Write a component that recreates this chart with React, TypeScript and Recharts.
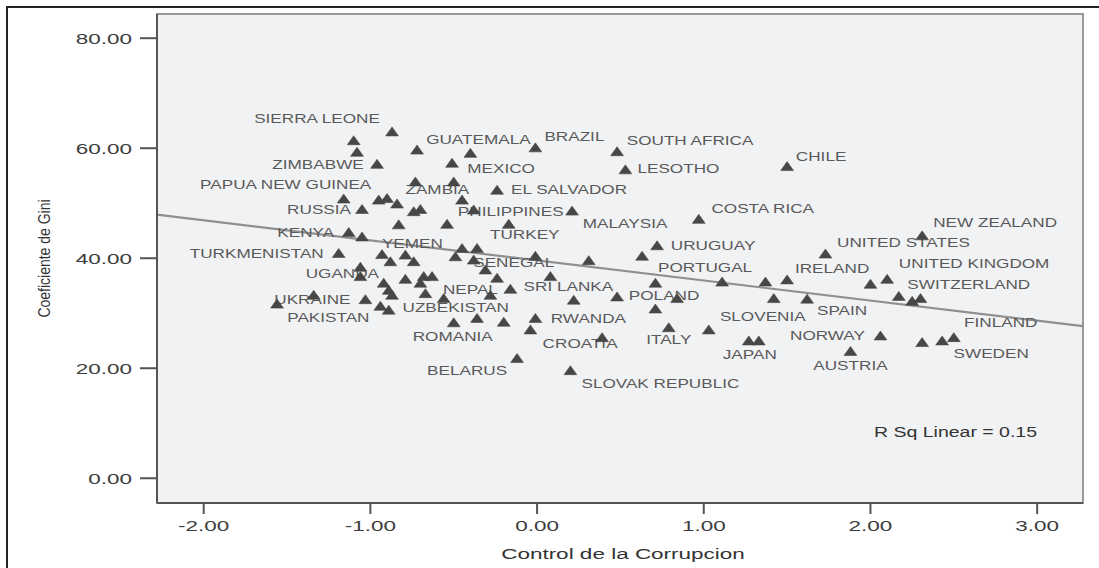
import React from "react";
import {
  ScatterChart,
  Scatter,
  XAxis,
  YAxis,
  ReferenceArea,
  ReferenceLine,
  Customized,
} from "recharts";

// labelled countries: control of corruption (x) vs Gini coefficient (y)
const countryNames = [
  "SIERRA LEONE", "ZIMBABWE", "GUATEMALA", "BRAZIL", "MEXICO",
  "SOUTH AFRICA", "LESOTHO", "CHILE", "ZAMBIA", "EL SALVADOR",
  "PAPUA NEW GUINEA", "RUSSIA", "PHILIPPINES", "MALAYSIA", "TURKEY",
  "COSTA RICA", "KENYA", "TURKMENISTAN", "YEMEN", "URUGUAY",
  "NEW ZEALAND", "UNITED STATES", "SENEGAL", "PORTUGAL", "IRELAND",
  "UNITED KINGDOM", "SWITZERLAND", "UGANDA", "NEPAL", "SRI LANKA",
  "UZBEKISTAN", "UKRAINE", "PAKISTAN", "POLAND", "RWANDA",
  "ROMANIA", "CROATIA", "ITALY", "BELARUS", "SLOVAK REPUBLIC",
  "SLOVENIA", "SPAIN", "FINLAND", "SWEDEN", "NORWAY",
  "JAPAN", "AUSTRIA",
];
const countryControl = [
  -0.87, -0.96, -0.4, -0.01, -0.51,
  0.48, 0.53, 1.5, -0.73, -0.24,
  -1.16, -1.05, -0.38, 0.21, -0.17,
  0.97, -1.13, -1.19, -0.79, 0.72,
  2.31, 1.73, -0.38, 1.11, 1.5,
  2.1, 2.17, -1.06, -0.67, -0.16,
  -0.56, -1.03, -0.94, 0.48, -0.01,
  -0.5, 0.39, 0.79, -0.12, 0.2,
  1.03, 1.62, 2.5, 2.43, 2.06,
  1.27, 1.88,
];
const countryGini = [
  63.0, 57.1, 59.1, 60.1, 57.3,
  59.4, 56.1, 56.7, 53.9, 52.4,
  50.8, 48.9, 48.8, 48.6, 46.2,
  47.1, 44.7, 40.9, 40.6, 42.3,
  44.1, 40.8, 39.7, 35.7, 36.1,
  36.2, 33.1, 36.7, 33.6, 34.4,
  32.7, 32.5, 31.3, 33.0, 29.1,
  28.3, 25.6, 27.4, 21.8, 19.6,
  27.0, 32.6, 25.6, 25.0, 25.9,
  25.0, 23.1,
];

// points whose labels are hidden in the original
const otherControl = [
  -1.1, -1.08, -0.72, -0.5, -0.95, -0.9, -0.84, -0.45, -0.74, -0.7,
  -0.83, -0.54, -1.05, -0.93, -0.88, -0.74, -0.45, -0.36, -0.49, -0.01,
  0.31, 0.63, -1.06, -0.31, -0.92, -0.89, -0.87, -0.79, -0.68, -0.63,
  -0.7, -0.24, 0.08, -0.28, 0.22, 0.71, 0.84, 0.71, -1.34, -1.56,
  -0.89, -0.36, -0.2, -0.04, 1.37, 1.42, 2.0, 2.25, 2.3, 1.33,
  2.31,
];
const otherGini = [
  61.4, 59.3, 59.7, 53.9, 50.6, 50.9, 49.9, 50.6, 48.5, 48.9,
  46.1, 46.2, 43.9, 40.7, 39.4, 39.4, 41.8, 41.8, 40.3, 40.4,
  39.6, 40.4, 38.4, 37.9, 35.5, 34.2, 33.3, 36.2, 36.7, 36.7,
  35.5, 36.4, 36.7, 33.3, 32.4, 35.5, 32.7, 30.8, 33.3, 31.7,
  30.6, 29.1, 28.4, 27.0, 35.7, 32.7, 35.3, 32.2, 32.7, 25.0,
  24.7,
];

const xTicks = [-2, -1, 0, 1, 2, 3];
const yTicks = [0, 20, 40, 60, 80];

// linear fit shown in the chart
const fitIntercept = 39.6;
const fitSlope = -3.65;
const rSquared = 0.15;

// label placement (px from the marker), as SPSS placed them
const labelOffset: Record<string, [number, number]> = {
  "SIERRA LEONE": [-75, -13],
  ZIMBABWE: [-59, 1],
  GUATEMALA: [8, -13],
  BRAZIL: [39, -11],
  MEXICO: [49, 6],
  "SOUTH AFRICA": [73, -11],
  LESOTHO: [53, -1],
  CHILE: [34, -10],
  ZAMBIA: [22, 8],
  "EL SALVADOR": [72, 0],
  "PAPUA NEW GUINEA": [-58, -14],
  RUSSIA: [-43, 0],
  PHILIPPINES: [37, 2],
  MALAYSIA: [53, 13],
  TURKEY: [16, 11],
  "COSTA RICA": [64, -11],
  KENYA: [-43, 0],
  TURKMENISTAN: [-82, 0],
  YEMEN: [7, -11],
  URUGUAY: [56, 0],
  "NEW ZEALAND": [73, -13],
  "UNITED STATES": [78, -11],
  SENEGAL: [40, 3],
  PORTUGAL: [-17, -14],
  IRELAND: [45, -11],
  "UNITED KINGDOM": [87, -15],
  SWITZERLAND: [70, -12],
  UGANDA: [-18, -3],
  NEPAL: [45, -4],
  "SRI LANKA": [58, -2],
  UZBEKISTAN: [12, 9],
  UKRAINE: [-53, 0],
  PAKISTAN: [-52, 12],
  POLAND: [47, -1],
  RWANDA: [53, 0],
  ROMANIA: [-1, 14],
  CROATIA: [-22, 6],
  ITALY: [0, 12],
  BELARUS: [-50, 12],
  "SLOVAK REPUBLIC": [90, 13],
  SLOVENIA: [54, -13],
  SPAIN: [35, 12],
  FINLAND: [47, -15],
  SWEDEN: [49, 13],
  NORWAY: [-53, 0],
  JAPAN: [1, 14],
  AUSTRIA: [0, 14],
};

const X_DOMAIN: [number, number] = [-2.28, 3.275];
const Y_DOMAIN: [number, number] = [-4.5, 84.4];

const W = 1099;
const H = 568;
const PLOT = { left: 157, top: 14, right: 1083, bottom: 503 };

const FONT = "'Liberation Sans', Arial, Helvetica, sans-serif";
const STRETCH = 1.5; // the source image is stretched sideways

const labeled = countryNames.map((name, i) => ({
  name,
  x: countryControl[i],
  y: countryGini[i],
}));
const others = otherControl.map((x, i) => ({ x, y: otherGini[i] }));

function StretchText({ x, y, anchor = "middle", size, fill, stretch = STRETCH, children }: any) {
  return (
    <text
      transform={`translate(${x},${y}) scale(${stretch},1)`}
      x={0}
      y={0}
      dy="0.36em"
      textAnchor={anchor}
      fontFamily={FONT}
      fontSize={size}
      fill={fill}
    >
      {children}
    </text>
  );
}

function Triangle({ cx, cy }: any) {
  if (cx == null || cy == null) return null;
  const pts = `${cx},${cy - 4.8} ${cx - 6.4},${cy + 4.2} ${cx + 6.4},${cy + 4.2}`;
  return <polygon points={pts} fill="#474747" stroke="#474747" strokeWidth={0.6} strokeLinejoin="round" />;
}

function PointLabel({ cx, cy, payload }: any) {
  if (cx == null || cy == null) return null;
  const [dx, dy] = labelOffset[payload.name] ?? [0, -13];
  return (
    <StretchText x={cx + dx} y={cy + dy} size={12} fill="#595959" stretch={1.43}>
      {payload.name}
    </StretchText>
  );
}

function YTick({ x, y, payload }: any) {
  return (
    <StretchText x={x} y={y} anchor="end" size={15} fill="#3d3d3d">
      {Number(payload.value).toFixed(2)}
    </StretchText>
  );
}

function XTick({ x, y, payload }: any) {
  return (
    <StretchText x={x} y={y + 8} size={15} fill="#3d3d3d">
      {Number(payload.value).toFixed(2)}
    </StretchText>
  );
}

// R² note, placed inside the plot area's lower right
function RSqLabel({ viewBox }: any) {
  if (!viewBox) return null;
  const { x, y, width } = viewBox;
  return (
    <StretchText x={x + width - 46} y={y + 417.7} anchor="end" size={15} fill="#333" stretch={1.3}>
      {`R Sq Linear = ${rSquared.toFixed(2)}`}
    </StretchText>
  );
}

function Annotations() {
  const midX = (PLOT.left + PLOT.right) / 2;
  const midY = (PLOT.top + PLOT.bottom) / 2;
  return (
    <g>
      <StretchText x={midX + 3} y={PLOT.bottom + 51} size={15} fill="#333">
        Control de la Corrupcion
      </StretchText>
      <text
        transform={`translate(44.5,${midY}) scale(1.15,1) rotate(-90)`}
        dy="0.36em"
        textAnchor="middle"
        fontFamily={FONT}
        fontSize={14}
        fill="#333"
      >
        Coeficiente de Gini
      </text>
    </g>
  );
}

export default function App() {
  const fitSegment = [
    { x: X_DOMAIN[0], y: fitIntercept + fitSlope * X_DOMAIN[0] },
    { x: X_DOMAIN[1], y: fitIntercept + fitSlope * X_DOMAIN[1] },
  ];
  return (
    <div
      style={{
        position: "absolute",
        left: 0,
        top: 0,
        width: W,
        height: H,
        background: "#fff",
        overflow: "hidden",
      }}
    >
      <div
        style={{
          position: "absolute",
          left: 6,
          top: 6,
          width: W,
          height: H,
          borderTop: "2px solid #222",
          borderLeft: "2px solid #222",
        }}
      />
      <div style={{ position: "absolute", left: 0, top: 0 }}>
        <ScatterChart
          width={W}
          height={H}
          margin={{ top: PLOT.top, right: W - PLOT.right, bottom: 0, left: 0 }}
        >
          <ReferenceArea
            x1={X_DOMAIN[0]}
            x2={X_DOMAIN[1]}
            y1={Y_DOMAIN[0]}
            y2={Y_DOMAIN[1]}
            fill="#f1f2f4"
            fillOpacity={1}
            stroke="#999"
            strokeWidth={2}
            label={<RSqLabel />}
          />
          <XAxis
            type="number"
            dataKey="x"
            domain={X_DOMAIN}
            ticks={xTicks}
            allowDataOverflow
            height={H - PLOT.bottom}
            axisLine={{ stroke: "#555", strokeWidth: 2 }}
            tickLine={{ stroke: "#555", strokeWidth: 2 }}
            tickSize={11}
            tickMargin={4}
            tick={<XTick />}
          />
          <YAxis
            type="number"
            dataKey="y"
            domain={Y_DOMAIN}
            ticks={yTicks}
            allowDataOverflow
            width={PLOT.left}
            axisLine={{ stroke: "#555", strokeWidth: 2 }}
            tickLine={{ stroke: "#555", strokeWidth: 2 }}
            tickSize={17}
            tickMargin={8}
            tick={<YTick />}
          />
          <ReferenceLine segment={fitSegment} stroke="#8f8f8f" strokeWidth={2.2} />
          <Scatter data={labeled} shape={PointLabel} isAnimationActive={false} />
          <Scatter data={others} shape={Triangle} isAnimationActive={false} />
          <Scatter data={labeled} shape={Triangle} isAnimationActive={false} />
          <Customized component={Annotations} />
        </ScatterChart>
      </div>
    </div>
  );
}
